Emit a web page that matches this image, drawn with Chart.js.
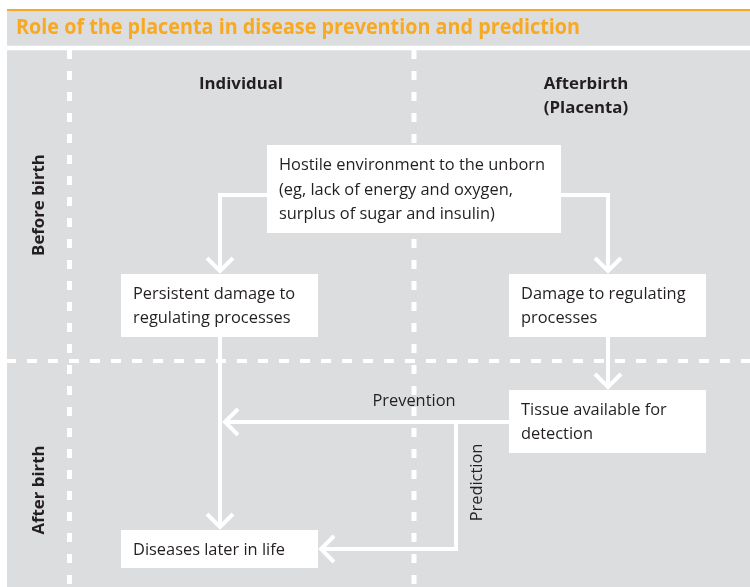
<!DOCTYPE html>
<html>
<head>
<meta charset="utf-8">
<title>Role of the placenta in disease prevention and prediction</title>
<script src="https://cdn.jsdelivr.net/npm/chart.js@4.4.1/dist/chart.umd.min.js"></script>
<style>
  html, body { margin: 0; padding: 0; background: #fff; }
  canvas { display: block; }
</style>
</head>
<body>
<canvas id="placentaChart" width="750" height="587"></canvas>
<script>
// Diagram data, in diagram units (x 0-750 across, y 0-587 downwards)

const title = 'Role of the placenta in disease prevention and prediction';

const columnLabels = [['Individual'], ['Afterbirth', '(Placenta)']];
const columnCentres = [241, 586];

const rowLabels = ['Before birth', 'After birth'];
const rowCentres = [205, 490];

const boxTexts = [
    ['Hostile environment to the unborn', '(eg, lack of energy and oxygen,', 'surplus of sugar and insulin)'],
    ['Persistent damage to', 'regulating processes'],
    ['Damage to regulating', 'processes'],
    ['Tissue available for', 'detection'],
    ['Diseases later in life'],
];
const boxLeft = [267, 121, 509, 509, 121];
const boxRight = [561, 318, 706, 706, 318];
const boxTop = [145, 274, 274, 390, 530];
const boxBottom = [233, 337, 337, 453, 568];

// connectors: list of [x, y] corners, arrow at the last point
const toPersistent = [[267, 195], [220, 195], [220, 271]];
const toDamage = [[561, 195], [608, 195], [608, 271]];
const toDiseases = [[220, 337], [220, 527]];
const toTissue = [[608, 337], [608, 387]];
const prevention = [[509, 422], [225, 422]];
const prediction = [[456, 422], [456, 549], [321, 549]];

const arrowLabels = ['Prevention', 'Prediction'];

const dividerColumns = [69.5, 414];
const dividerRows = [361];


// colours
const WHITE = '#ffffff';
const GREY = '#dcdddf';
const INK = '#231f20';
const ORANGE = '#f8a922';

const toPoints = list => list.map(([x, y]) => ({ x, y }));

const arrowHead = list => {
    const [tx, ty] = list[list.length - 1];
    const [px, py] = list[list.length - 2];
    const dx = Math.sign(tx - px);
    const dy = Math.sign(ty - py);
    const a = 13;
    return [
        [tx - dx * a - dy * a, ty - dy * a + dx * a],
        [tx, ty],
        [tx - dx * a + dy * a, ty - dy * a - dx * a],
    ];
};

const whiteLine = (list, width, dash) => ({
    data: toPoints(list),
    showLine: true,
    borderColor: WHITE,
    borderWidth: width,
    borderDash: dash || [],
    borderCapStyle: 'butt',
    borderJoinStyle: 'miter',
    pointRadius: 0,
    fill: false,
    tension: 0,
});

const datasets = [];

dividerColumns.forEach(x => {
    const ds = whiteLine([[x, 50], [x, 587]], 5, [9, 12]);
    ds.order = 2;
    datasets.push(ds);
});
dividerRows.forEach(y => {
    const ds = whiteLine([[6, y], [750, y]], 4, [10, 11]);
    ds.order = 2;
    datasets.push(ds);
});

[toPersistent, toDamage, toDiseases, toTissue, prevention, prediction].forEach(path => {
    const ds = whiteLine(path, 4);
    ds.order = 1;
    datasets.push(ds);
    const head = whiteLine(arrowHead(path), 4);
    head.order = 1;
    datasets.push(head);
});


// draws text scaled horizontally so it matches the narrower original typeface
const drawText = (ctx, text, x, y, font, color, align, squeeze, rotate) => {
    ctx.save();
    ctx.font = font;
    ctx.fillStyle = color;
    ctx.textAlign = align;
    ctx.textBaseline = 'middle';
    ctx.translate(x, y);
    if (rotate) ctx.rotate(-Math.PI / 2);
    ctx.scale(squeeze, 1);
    ctx.fillText(text, 0, 0);
    ctx.restore();
};

const squeezeFor = (ctx, font, sample, target) => {
    ctx.save();
    ctx.font = font;
    const w = ctx.measureText(sample).width;
    ctx.restore();
    return target / w;
};

const diagramPlugin = {
    id: 'diagram',
    beforeDatasetsDraw(chart) {
        const { ctx, scales: { x, y } } = chart;
        const px = v => x.getPixelForValue(v);
        const py = v => y.getPixelForValue(v);
        ctx.save();
        ctx.fillStyle = WHITE;
        ctx.fillRect(0, 0, chart.width, chart.height);
        ctx.fillStyle = ORANGE;
        ctx.fillRect(px(7), py(9), px(750) - px(7), py(11.5) - py(9));
        ctx.fillStyle = GREY;
        ctx.fillRect(px(7), py(11.5), px(750) - px(7), py(45.7) - py(11.5));
        ctx.fillRect(px(7), py(50.3), px(750) - px(7), py(587) - py(50.3));
        ctx.restore();
    },
    afterDatasetsDraw(chart) {
        const { ctx, scales: { x, y } } = chart;
        const px = v => x.getPixelForValue(v);
        const py = v => y.getPixelForValue(v);

        // boxes
        ctx.save();
        ctx.fillStyle = WHITE;
        boxTexts.forEach((lines, i) => {
            ctx.fillRect(px(boxLeft[i]), py(boxTop[i]),
                px(boxRight[i]) - px(boxLeft[i]), py(boxBottom[i]) - py(boxTop[i]));
        });
        ctx.restore();

        const bodyFont = '16px "Open Sans"';
        const boldFont = 'bold 16.5px "Open Sans"';
        const titleFont = 'bold 21px "Open Sans"';
        const bodySq = squeezeFor(ctx, bodyFont, boxTexts[0][0], 266);
        const boldSq = squeezeFor(ctx, boldFont, columnLabels[0][0], 84);
        const titleSq = squeezeFor(ctx, titleFont, title, 564);

        drawText(ctx, title, px(16), py(28.5), titleFont, ORANGE, 'left', titleSq);

        columnLabels.forEach((lines, i) => {
            lines.forEach((line, j) => {
                drawText(ctx, line, px(columnCentres[i]), py(84.5 + j * 23.5), boldFont, INK, 'center', boldSq);
            });
        });

        rowLabels.forEach((label, i) => {
            drawText(ctx, label, px(39), py(rowCentres[i]), boldFont, INK, 'center', boldSq, true);
        });

        boxTexts.forEach((lines, i) => {
            const lineGap = 24.5;
            const first = (boxTop[i] + boxBottom[i]) / 2 + 1 - (lines.length - 1) * lineGap / 2;
            lines.forEach((line, j) => {
                drawText(ctx, line, px(boxLeft[i] + 12), py(first + j * lineGap), bodyFont, INK, 'left', bodySq);
            });
        });

        drawText(ctx, arrowLabels[0], px(414), py(401), bodyFont, INK, 'center', bodySq);
        drawText(ctx, arrowLabels[1], px(477), py(482.5), bodyFont, INK, 'center', bodySq, true);
    },
};

const chart = new Chart(document.getElementById('placentaChart'), {
    type: 'scatter',
    data: { datasets },
    options: {
        responsive: false,
        animation: false,
        events: [],
        layout: { padding: 0 },
        plugins: {
            legend: { display: false },
            tooltip: { enabled: false },
        },
        scales: {
            x: { type: 'linear', min: 0, max: 750, display: false },
            y: { type: 'linear', min: 0, max: 587, reverse: true, display: false },
        },
    },
    plugins: [diagramPlugin],
});
</script>
</body>
</html>
